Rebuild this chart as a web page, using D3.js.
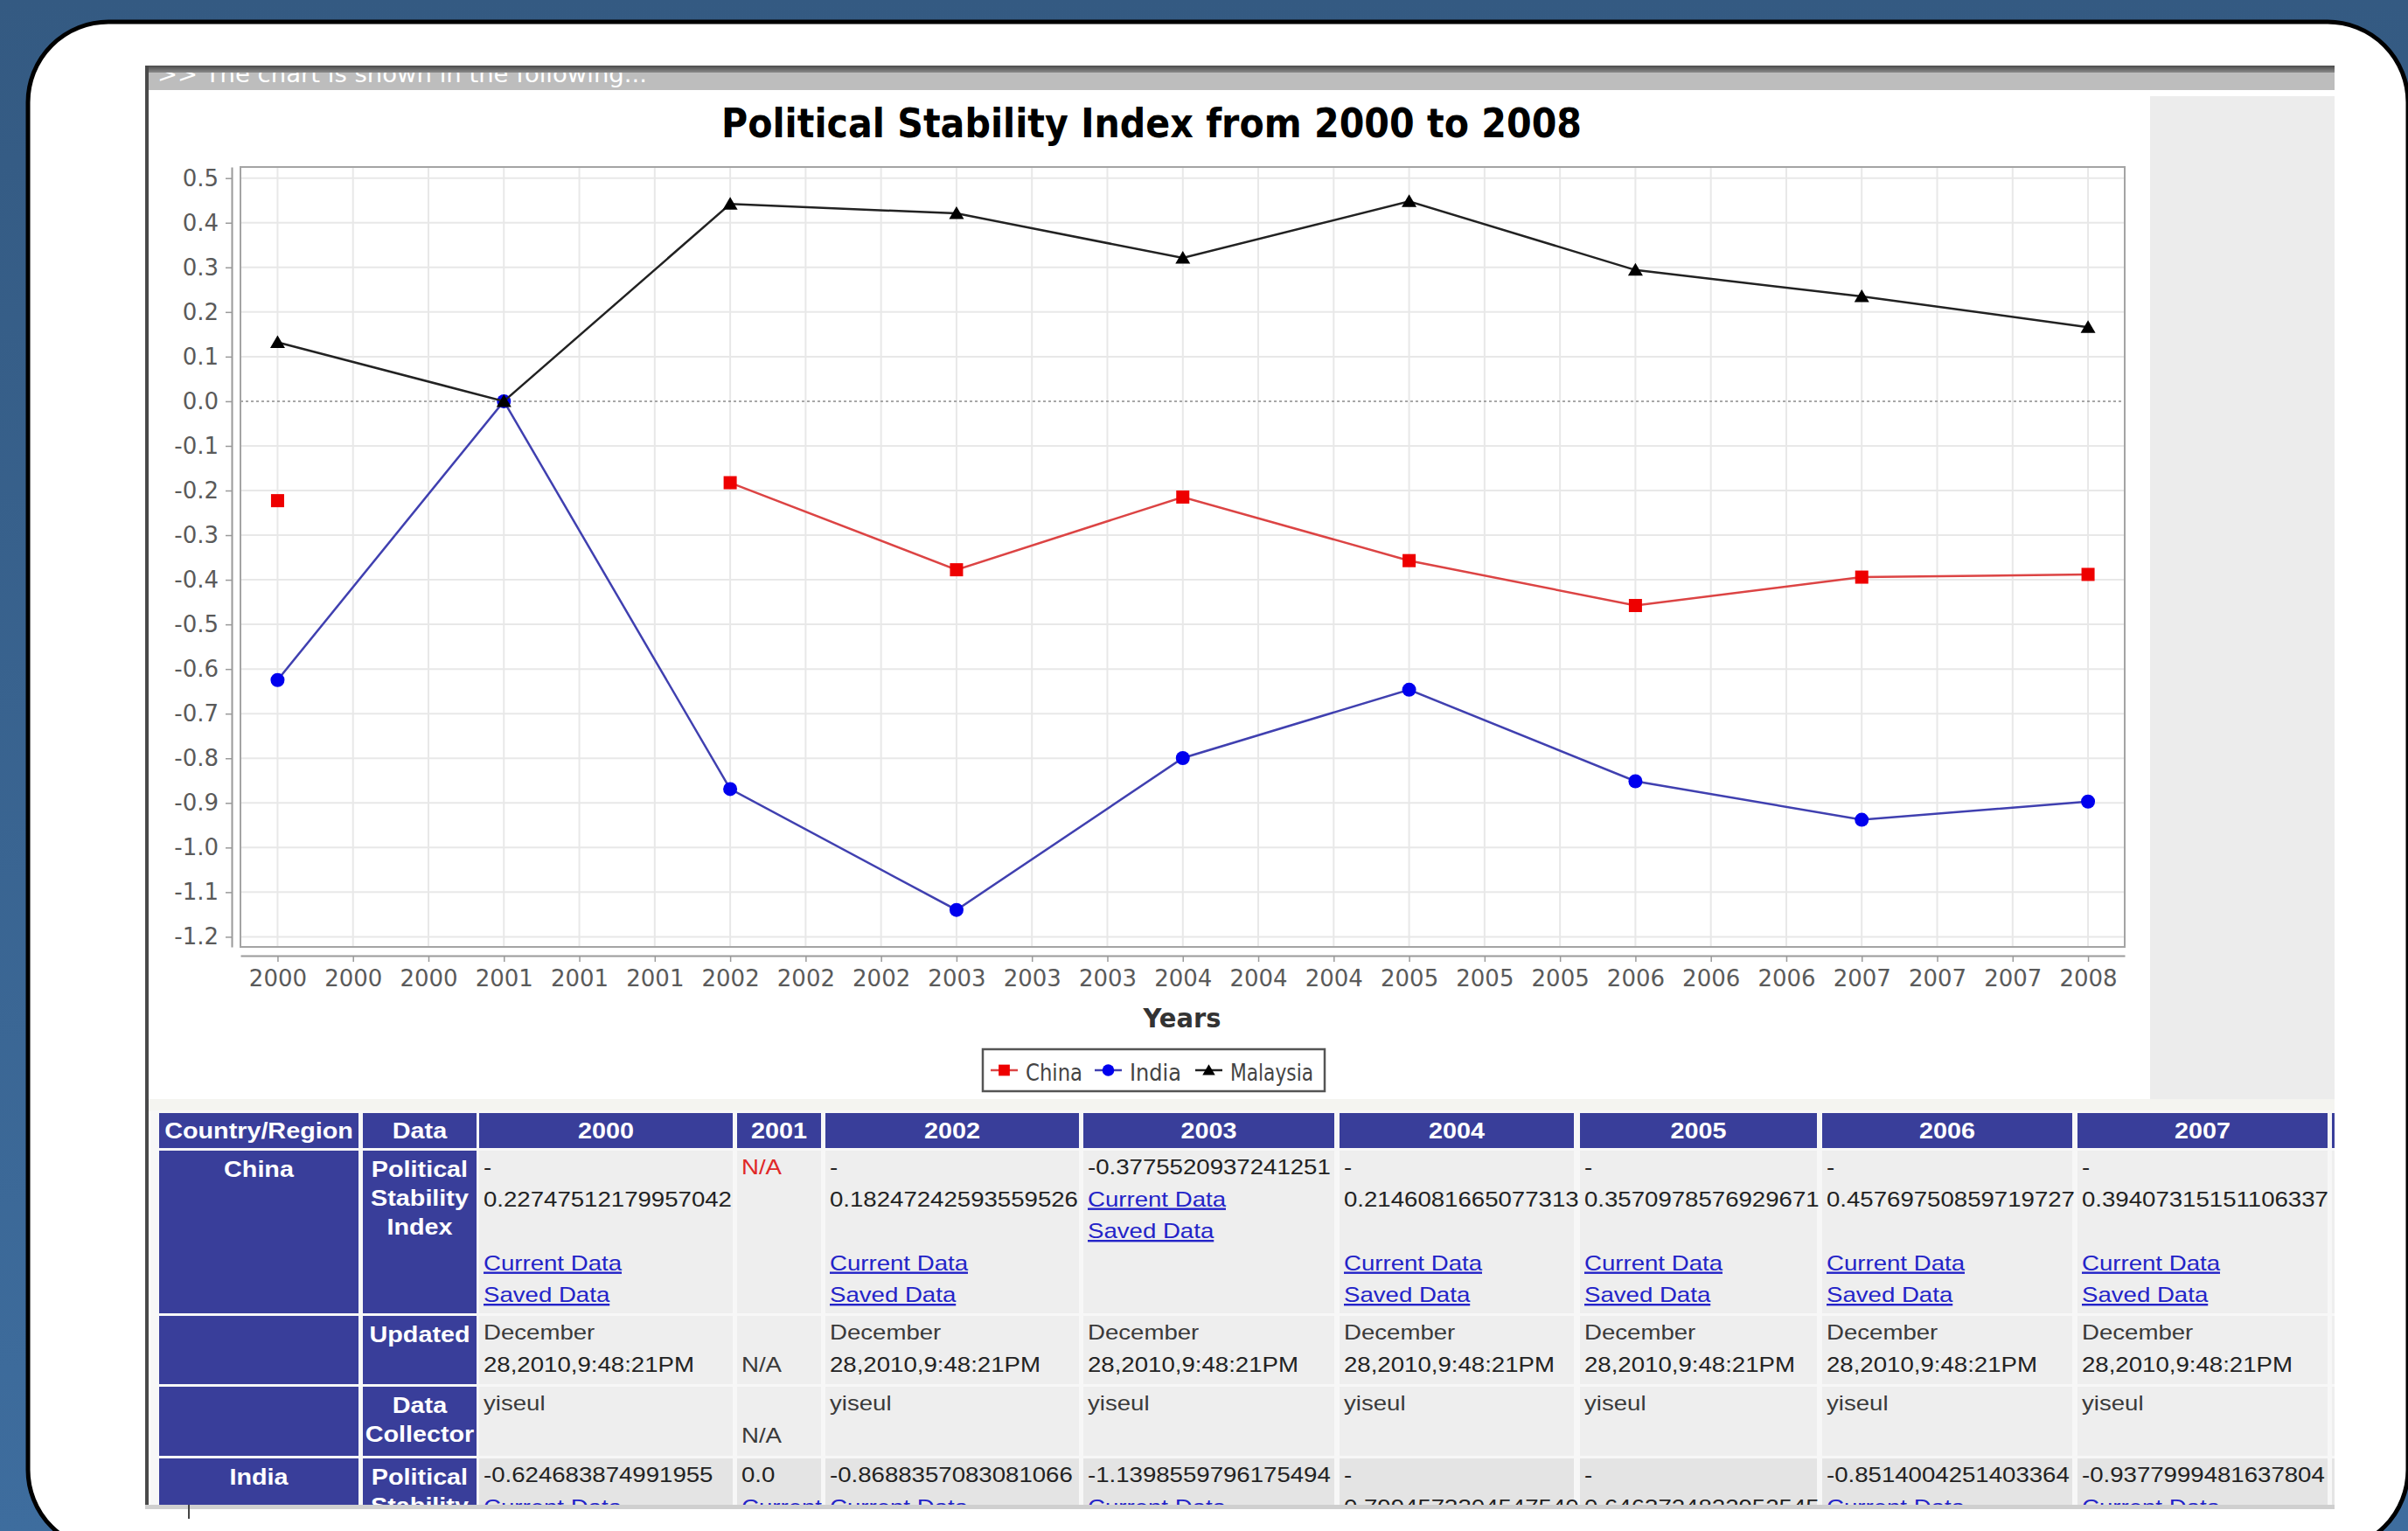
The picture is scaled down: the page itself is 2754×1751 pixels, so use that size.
<!DOCTYPE html>
<html><head><meta charset="utf-8">
<script src="https://cdn.jsdelivr.net/npm/d3@7"></script>
<style>html,body{margin:0;padding:0;background:#365d86;overflow:hidden}</style>
</head><body>
<svg id="c" width="2754" height="1751" xmlns="http://www.w3.org/2000/svg"></svg>
<script>
// ---------------- DATA ----------------
const years = [2000, 2001, 2002, 2003, 2004, 2005, 2006, 2007, 2008];
const chinaValues = [-0.22274751217957042, null, -0.18247242593559526, -0.3775520937241251, -0.2146081665077313, -0.3570978576929671, -0.45769750859719727, -0.39407315151106337, -0.388];
const indiaValues = [-0.624683874991955, 0.0, -0.8688357083081066, -1.1398559796175494, -0.799457330454754, -0.6463724822952545, -0.8514004251403364, -0.9377999481637804, -0.897];
const malaysiaValues = [0.132, 0.0, 0.442, 0.421, 0.321, 0.448, 0.294, 0.235, 0.166];
const seriesNames = ["China", "India", "Malaysia"];
const yTickValues = [0.5, 0.4, 0.3, 0.2, 0.1, 0.0, -0.1, -0.2, -0.3, -0.4, -0.5, -0.6, -0.7, -0.8, -0.9, -1.0, -1.1, -1.2];
const yTickLabels = ["0.5","0.4","0.3","0.2","0.1","0.0","-0.1","-0.2","-0.3","-0.4","-0.5","-0.6","-0.7","-0.8","-0.9","-1.0","-1.1","-1.2"];
const xTickLabels = ["2000","2000","2000","2001","2001","2001","2002","2002","2002","2003","2003","2003","2004","2004","2004","2005","2005","2005","2006","2006","2006","2007","2007","2007","2008"];
const titleText = "Political Stability Index from 2000 to 2008";
const xAxisTitle = "Years";
const barText = ">> The chart is shown in the following...";

const tableHeader = ["Country/Region", "Data", "2000", "2001", "2002", "2003", "2004", "2005", "2006", "2007", ""];
const tableCountry = ["China", "", "", "India"];
const tableDataLabel = [["Political", "Stability", "Index"], ["Updated"], ["Data", "Collector"], ["Political", "Stability", "Index"]];
// '@' = link, '!' = red text
const tableChinaIndex = [
  ["-", "0.22747512179957042", "", "@Current Data", "@Saved Data"],
  ["!N/A"],
  ["-", "0.18247242593559526", "", "@Current Data", "@Saved Data"],
  ["-0.3775520937241251", "@Current Data", "@Saved Data"],
  ["-", "0.2146081665077313", "", "@Current Data", "@Saved Data"],
  ["-", "0.3570978576929671", "", "@Current Data", "@Saved Data"],
  ["-", "0.45769750859719727", "", "@Current Data", "@Saved Data"],
  ["-", "0.39407315151106337", "", "@Current Data", "@Saved Data"],
  []
];
const tableChinaUpdated = [
  ["December", "28,2010,9:48:21PM"], ["", "N/A"], ["December", "28,2010,9:48:21PM"], ["December", "28,2010,9:48:21PM"],
  ["December", "28,2010,9:48:21PM"], ["December", "28,2010,9:48:21PM"], ["December", "28,2010,9:48:21PM"], ["December", "28,2010,9:48:21PM"], []
];
const tableChinaCollector = [["yiseul"], ["", "N/A"], ["yiseul"], ["yiseul"], ["yiseul"], ["yiseul"], ["yiseul"], ["yiseul"], []];
const tableIndiaIndex = [
  ["-0.624683874991955", "@Current Data"], ["0.0", "@Current"], ["-0.8688357083081066", "@Current Data"],
  ["-1.1398559796175494", "@Current Data"], ["-", "0.7994573304547540"], ["-", "0.6463724822952545"],
  ["-0.8514004251403364", "@Current Data"], ["-0.9377999481637804", "@Current Data"], []
];
const tableBody = [tableChinaIndex, tableChinaUpdated, tableChinaCollector, tableIndiaIndex];

// ---------------- LAYOUT ----------------
const W = 2754, H = 1751;
const svg = d3.select("#c");
const defs = svg.append("defs");
const bgGrad = defs.append("linearGradient").attr("id", "bg").attr("x1", 0).attr("y1", 0).attr("x2", 0).attr("y2", 1);
bgGrad.append("stop").attr("offset", "0%").attr("stop-color", "#345a82");
bgGrad.append("stop").attr("offset", "100%").attr("stop-color", "#3e6d9e");
const topGrad = defs.append("linearGradient").attr("id", "topbar").attr("x1", 0).attr("y1", 0).attr("x2", 0).attr("y2", 1);
topGrad.append("stop").attr("offset", "0%").attr("stop-color", "#4a4a4a");
topGrad.append("stop").attr("offset", "100%").attr("stop-color", "#8a8a8a");
defs.append("clipPath").attr("id", "barclip").append("rect").attr("x", 172).attr("y", 83).attr("width", 2498).attr("height", 20);
defs.append("clipPath").attr("id", "tblclip").append("rect").attr("x", 166).attr("y", 1268).attr("width", 2504).attr("height", 454);

svg.append("rect").attr("width", W).attr("height", H).attr("fill", "url(#bg)");
svg.append("rect").attr("x", 32).attr("y", 25).attr("width", 2722).attr("height", 1748).attr("rx", 92).attr("ry", 92)
  .attr("fill", "#fff").attr("stroke", "#000").attr("stroke-width", 5);

// screenshot chrome
svg.append("rect").attr("x", 166).attr("y", 75).attr("width", 2504).attr("height", 8).attr("fill", "url(#topbar)");
svg.append("rect").attr("x", 170).attr("y", 83).attr("width", 2500).attr("height", 20).attr("fill", "#bdbdbd");
svg.append("text").attr("clip-path", "url(#barclip)").attr("x", 180).attr("y", 94)
  .attr("font-family", "DejaVu Sans").attr("font-size", 26).attr("fill", "#ffffff")
  .attr("textLength", 560).attr("lengthAdjust", "spacingAndGlyphs").text(barText);
svg.append("rect").attr("x", 166).attr("y", 75).attr("width", 4).attr("height", 1650).attr("fill", "#4a4a4a");
svg.append("rect").attr("x", 2459).attr("y", 110).attr("width", 211).attr("height", 1147).attr("fill", "#ececec");
svg.append("rect").attr("x", 170).attr("y", 1257).attr("width", 2500).attr("height", 14).attr("fill", "#f4f4f0");

// ---------------- CHART ----------------
const PLOT = { left: 275, right: 2430, top: 191, bottom: 1083 };
const x = d3.scaleLinear().domain([1999.836, 2008.162]).range([PLOT.left, PLOT.right]);
const y = d3.scaleLinear().domain([-1.2227, 0.5249]).range([PLOT.bottom, PLOT.top]);
const xTickValues = xTickLabels.map((_, i) => years[0] + i / 3);

const chart = svg.append("g");
chart.append("rect").attr("x", PLOT.left).attr("y", PLOT.top).attr("width", PLOT.right - PLOT.left).attr("height", PLOT.bottom - PLOT.top).attr("fill", "#fff");
chart.append("g").selectAll("line").data(xTickValues).join("line")
  .attr("x1", d => x(d)).attr("x2", d => x(d)).attr("y1", PLOT.top).attr("y2", PLOT.bottom)
  .attr("stroke", "#e8e8e8").attr("stroke-width", 2);
chart.append("g").selectAll("line").data(yTickValues.filter(d => d !== 0)).join("line")
  .attr("x1", PLOT.left).attr("x2", PLOT.right).attr("y1", d => y(d)).attr("y2", d => y(d))
  .attr("stroke", "#e8e8e8").attr("stroke-width", 2);
chart.append("line").attr("x1", PLOT.left).attr("x2", PLOT.right).attr("y1", y(0)).attr("y2", y(0))
  .attr("stroke", "#8a8a8a").attr("stroke-width", 1.5).attr("stroke-dasharray", "3,3");
chart.append("rect").attr("x", PLOT.left).attr("y", PLOT.top).attr("width", PLOT.right - PLOT.left).attr("height", PLOT.bottom - PLOT.top)
  .attr("fill", "none").attr("stroke", "#a4a4a4").attr("stroke-width", 2);

// axes
const yAxis = d3.axisLeft(y).tickValues(yTickValues).tickFormat((d, i) => yTickLabels[i]).tickSize(7).tickSizeOuter(0).tickPadding(8);
const yg = chart.append("g").attr("transform", "translate(265,0)").call(yAxis);
const xAxis = d3.axisBottom(x).tickValues(xTickValues).tickFormat((d, i) => xTickLabels[i]).tickSize(7).tickSizeOuter(0).tickPadding(10);
const xg = chart.append("g").attr("transform", "translate(0,1093)").call(xAxis);
[yg, xg].forEach(g => {
  g.attr("font-family", "DejaVu Sans").attr("font-size", 26);
  g.select(".domain").attr("stroke", "#9a9a9a").attr("stroke-width", 2);
  g.selectAll(".tick line").attr("stroke", "#9a9a9a").attr("stroke-width", 1.5);
  g.selectAll(".tick text").attr("fill", "#5a5a5a");
});

// series
const series = [
  { name: seriesNames[0], values: chinaValues, line: "#dc4444", fill: "#ee0000", shape: "square" },
  { name: seriesNames[1], values: indiaValues, line: "#4040b0", fill: "#0000ee", shape: "circle" },
  { name: seriesNames[2], values: malaysiaValues, line: "#222222", fill: "#000000", shape: "triangle" }
];
function drawMarker(sel, shape, fill, s) {
  if (shape === "square") sel.append("rect").attr("x", -7.5 * s).attr("y", -7.5 * s).attr("width", 15 * s).attr("height", 15 * s).attr("fill", fill);
  else if (shape === "circle") sel.append("circle").attr("r", 8 * s).attr("fill", fill);
  else sel.append("path").attr("d", `M0,${-8 * s}L${8.5 * s},${6.5 * s}L${-8.5 * s},${6.5 * s}Z`).attr("fill", fill);
}
const lineGen = d3.line().defined(d => d.v !== null).x(d => x(d.year)).y(d => y(d.v));
series.forEach(s => {
  const pts = years.map((yr, i) => ({ year: yr, v: s.values[i] }));
  chart.append("path").datum(pts).attr("d", lineGen).attr("fill", "none").attr("stroke", s.line).attr("stroke-width", 2.5);
  pts.filter(p => p.v !== null).forEach(p => {
    const m = chart.append("g").attr("transform", `translate(${x(p.year)},${y(p.v)})`);
    drawMarker(m, s.shape, s.fill, 1);
  });
});

// title
chart.append("text").attr("x", 1317).attr("y", 157).attr("text-anchor", "middle")
  .attr("font-family", "DejaVu Sans").attr("font-weight", "bold").attr("font-size", 46).attr("fill", "#000")
  .attr("textLength", 984).attr("lengthAdjust", "spacingAndGlyphs").text(titleText);
chart.append("text").attr("x", 1352).attr("y", 1175).attr("text-anchor", "middle")
  .attr("font-family", "DejaVu Sans").attr("font-weight", "bold").attr("font-size", 30).attr("fill", "#333")
  .attr("textLength", 89).attr("lengthAdjust", "spacingAndGlyphs").text(xAxisTitle);

// legend
const legend = chart.append("g");
legend.append("rect").attr("x", 1124).attr("y", 1200).attr("width", 391).attr("height", 48).attr("fill", "#fff").attr("stroke", "#555").attr("stroke-width", 2.5);
const legendLineX = [1133, 1252, 1367];
const legendTextLen = [65, 59, 95];
series.forEach((s, i) => {
  const lx = legendLineX[i];
  legend.append("line").attr("x1", lx).attr("x2", lx + 31).attr("y1", 1224).attr("y2", 1224).attr("stroke", s.line).attr("stroke-width", 2.5);
  const m = legend.append("g").attr("transform", `translate(${lx + 15.5},1224)`);
  drawMarker(m, s.shape, s.fill, 0.85);
  legend.append("text").attr("x", lx + 40).attr("y", 1236).attr("font-family", "DejaVu Sans").attr("font-size", 27).attr("fill", "#444")
    .attr("textLength", legendTextLen[i]).attr("lengthAdjust", "spacingAndGlyphs").text(s.name);
});

// ---------------- TABLE ----------------
const colX0 = [182, 415, 548, 843, 944, 1239, 1532, 1807, 2084, 2376, 2667];
const colX1 = [410, 545, 838, 939, 1234, 1526, 1800, 2078, 2370, 2662, 2800];
const rowY0 = [1316, 1505, 1586, 1668];
const rowY1 = [1502, 1583, 1665, 1800];
const HEAD = "#393e9a";
const tbl = svg.append("g").attr("clip-path", "url(#tblclip)");
tbl.append("rect").attr("x", 172).attr("y", 1270).attr("width", 2500).attr("height", 470).attr("fill", "#f7f7f7");
const STRETCH = 1.15;
function stretch(node) {
  const w = node.getComputedTextLength();
  if (w > 0) { node.setAttribute("textLength", w * STRETCH); node.setAttribute("lengthAdjust", "spacingAndGlyphs"); }
}
function addText(txt, xx, yy, opts) {
  const t = tbl.append("text").attr("x", xx).attr("y", yy)
    .attr("font-family", "Liberation Sans, Arial, sans-serif").attr("font-size", opts.size || 24)
    .attr("font-weight", opts.bold ? "bold" : "normal").attr("fill", opts.fill || "#333")
    .attr("text-anchor", opts.anchor || "start").text(txt);
  if (opts.link) t.attr("text-decoration", "underline");
  stretch(t.node());
  return t;
}
// header
tableHeader.forEach((h, i) => {
  tbl.append("rect").attr("x", colX0[i]).attr("y", 1273).attr("width", colX1[i] - colX0[i]).attr("height", 40).attr("fill", HEAD);
  if (h) addText(h, (colX0[i] + colX1[i]) / 2, 1302, { bold: true, size: 25, fill: "#fff", anchor: "middle" });
});
// body
tableBody.forEach((row, r) => {
  const bg = r === 3 ? "#e4e4e4" : "#eeeeee";
  for (let c = 0; c < 2; c++) {
    tbl.append("rect").attr("x", colX0[c]).attr("y", rowY0[r]).attr("width", colX1[c] - colX0[c]).attr("height", rowY1[r] - rowY0[r]).attr("fill", HEAD);
  }
  if (tableCountry[r]) addText(tableCountry[r], (colX0[0] + colX1[0]) / 2, rowY0[r] + 30, { bold: true, size: 25, fill: "#fff", anchor: "middle" });
  tableDataLabel[r].forEach((lab, k) => {
    addText(lab, (colX0[1] + colX1[1]) / 2, rowY0[r] + 30 + k * 33, { bold: true, size: 25, fill: "#fff", anchor: "middle" });
  });
  row.forEach((cell, j) => {
    const c = j + 2;
    tbl.append("rect").attr("x", colX0[c]).attr("y", rowY0[r]).attr("width", colX1[c] - colX0[c]).attr("height", rowY1[r] - rowY0[r]).attr("fill", bg);
    cell.forEach((line, k) => {
      if (!line) return;
      const yy = rowY0[r] + 27 + k * 36.5;
      if (line[0] === "@") addText(line.slice(1), colX0[c] + 5, yy, { fill: "#2323c8", link: true });
      else if (line[0] === "!") addText(line.slice(1), colX0[c] + 5, yy, { fill: "#e02828" });
      else addText(line, colX0[c] + 5, yy, { fill: /^[-0-9]/.test(line) ? "#222" : "#3a3a3a" });
    });
  });
});
// bottom scrollbar line
svg.append("rect").attr("x", 166).attr("y", 1721).attr("width", 2504).attr("height", 5).attr("fill", "#cfcfcf");
svg.append("rect").attr("x", 215).attr("y", 1721).attr("width", 2).attr("height", 16).attr("fill", "#444");
</script>
</body></html>
